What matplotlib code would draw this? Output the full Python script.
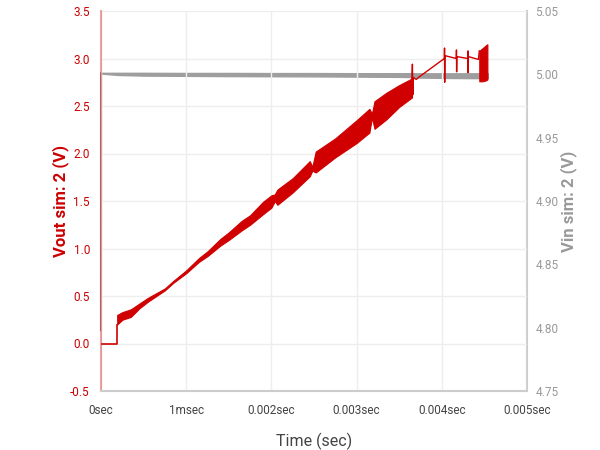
import matplotlib
matplotlib.use("Agg")
import matplotlib.pyplot as plt
import numpy as np

plt.rcParams['font.family'] = ['Roboto', 'DejaVu Sans']

# ---- data (time in ms, converted to s) ----
vout_pre_t_ms = [0.0, 0.19, 0.19]
vout_pre_v = [0.0, 0.0, 0.20]

band_t_ms = [0.19, 0.25, 0.35, 0.45, 0.55, 0.65, 0.75, 0.85, 1.0, 1.15, 1.25, 1.4, 1.5, 1.65,
             1.75, 1.9, 2.0, 2.04, 2.07, 2.25, 2.45, 2.48, 2.52, 2.75, 3.0, 3.15, 3.18, 3.21,
             3.35, 3.5, 3.65]
band_hi = [0.30, 0.33, 0.36, 0.42, 0.48, 0.53, 0.58, 0.66, 0.77, 0.90, 0.97, 1.10, 1.17, 1.29,
           1.35, 1.49, 1.56, 1.57, 1.62, 1.74, 1.92, 1.86, 2.02, 2.16, 2.35, 2.47, 2.42, 2.55,
           2.64, 2.72, 2.79]
band_lo = [0.20, 0.25, 0.28, 0.37, 0.44, 0.50, 0.56, 0.64, 0.74, 0.86, 0.92, 1.03, 1.09, 1.19,
           1.25, 1.36, 1.43, 1.50, 1.46, 1.59, 1.76, 1.82, 1.80, 1.96, 2.11, 2.22, 2.38, 2.26,
           2.36, 2.49, 2.59]

tail_t_ms = [3.65, 3.655, 3.66, 3.665, 3.70, 3.74, 4.030, 4.032, 4.034, 4.037, 4.17, 4.172,
             4.174, 4.177, 4.305, 4.307, 4.309, 4.312, 4.43, 4.44]
tail_v = [2.79, 2.94, 2.62, 2.80, 2.78, 2.81, 3.00, 3.11, 2.75, 3.03, 3.00, 3.09,
          2.86, 3.02, 3.00, 3.08, 2.85, 3.02, 2.99, 3.08]

dense_t_ms = [4.44, 4.48, 4.52, 4.535]
dense_hi = [3.08, 3.11, 3.14, 3.15]
dense_lo = [2.76, 2.76, 2.77, 2.78]

vin_start_t_ms = [0.0, 0.001]
vin_start_v = [4.798, 5.0008]
vin_t_ms = [0.001, 0.2, 0.5, 1.0, 1.5, 2.0, 2.5, 3.0, 3.5, 3.65, 3.7, 4.0, 4.3, 4.54]
vin_hi = [5.0012, 5.0012, 5.0012, 5.0011, 5.0011, 5.0010, 5.0010, 5.0009, 5.0009, 5.0009,
          5.0008, 5.0008, 5.0008, 5.0008]
vin_lo = [5.0006, 4.9995, 4.9990, 4.9988, 4.9986, 4.9985, 4.9984, 4.9982, 4.9980, 4.9978,
          4.9975, 4.9972, 4.9970, 4.9970]

x_ticks = [0, 0.001, 0.002, 0.003, 0.004, 0.005]
x_labels = ['0sec', '1msec', '0.002sec', '0.003sec', '0.004sec', '0.005sec']
left_ticks = [-0.5, 0.0, 0.5, 1.0, 1.5, 2.0, 2.5, 3.0, 3.5]
right_ticks = [4.75, 4.80, 4.85, 4.90, 4.95, 5.00, 5.05]

ms = lambda a: np.asarray(a) * 1e-3

RED = '#d00000'
GRAY = '#9e9e9e'

fig = plt.figure(figsize=(6, 4.5), dpi=100)
ax = fig.add_axes([101/600, 59/450, 426/600, 380/450])
ax2 = ax.twinx()

# Vin (right axis)
ax2.plot(ms(vin_start_t_ms), vin_start_v, color='#888888', lw=1.5, zorder=2, clip_on=False)
ax2.fill_between(ms(vin_t_ms), vin_lo, vin_hi, color=GRAY, lw=1.0, edgecolor=GRAY, zorder=2)

# Vout (left axis), drawn on top
ax.set_zorder(ax2.get_zorder() + 1)
ax.patch.set_visible(False)
ax.plot(ms(vout_pre_t_ms), vout_pre_v, color=RED, lw=1.2)
ax.fill_between(ms(band_t_ms), band_lo, band_hi, color=RED, lw=0.8, edgecolor=RED)
ax.plot(ms(tail_t_ms), tail_v, color=RED, lw=1.0)
ax.fill_between(ms(dense_t_ms), dense_lo, dense_hi, color=RED, lw=0.8, edgecolor=RED)

ax.set_xlim(0, 0.005)
ax.set_ylim(-0.5, 3.5)
ax2.set_ylim(4.75, 5.05)

ax.set_xticks(x_ticks)
ax.set_xticklabels(x_labels)
ax.set_yticks(left_ticks)
ax.set_yticklabels([f'{v:.1f}' for v in left_ticks])
ax2.set_yticks(right_ticks)
ax2.set_yticklabels([f'{v:.2f}' for v in right_ticks])

ax.grid(True, color='#eeeeee', lw=1.0)
ax.set_axisbelow(True)
ax2.grid(False)

ax.tick_params(axis='x', length=0, pad=9, labelsize=8.5, labelcolor='#444444')
ax.tick_params(axis='y', length=0, pad=8, labelsize=8.5, labelcolor='#cc0000')
ax2.tick_params(axis='y', length=0, pad=6, labelsize=8.5, labelcolor='#999999')

for a in (ax, ax2):
    a.spines['top'].set_visible(False)
ax.spines['left'].set_color((0.85, 0.2, 0.2, 0.45))
ax.spines['left'].set_linewidth(1.5)
ax.spines['bottom'].set_color('#cccccc')
ax.spines['bottom'].set_linewidth(1.5)
ax.spines['right'].set_visible(False)
ax2.spines['left'].set_visible(False)
ax2.spines['bottom'].set_visible(False)
ax2.spines['right'].set_color('#cccccc')
ax2.spines['right'].set_linewidth(1.5)

ax.set_xlabel('Time (sec)', fontsize=11.5, color='#444444', labelpad=12)
ax.set_ylabel('Vout sim: 2 (V)', fontsize=12, color='#cc0000', fontweight='bold', labelpad=1)
ax2.set_ylabel('Vin sim: 2 (V)', fontsize=12, color='#999999', fontweight='bold', labelpad=1)

fig.savefig('out.png', dpi=100)
